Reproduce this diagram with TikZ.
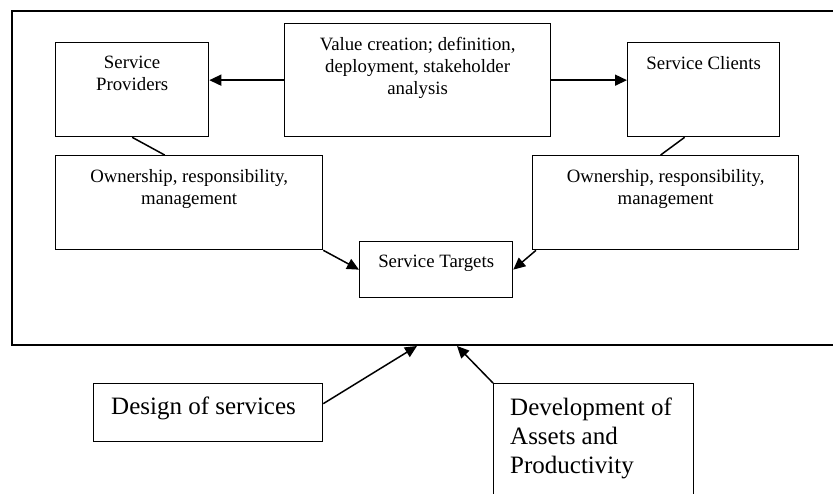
\documentclass[tikz,border=0pt]{standalone}
\usepackage{fontspec}
\setmainfont{Liberation Serif}
\usepackage{tikz}
\usetikzlibrary{arrows.meta}
\usetikzlibrary{positioning}
\newcommand{\smallfs}{\fontsize{18.8}{22}\selectfont}
\newcommand{\bigfs}{\fontsize{25}{29}\selectfont}
\tikzstyle{blk}=[shape=rectangle,draw,line width=1.3pt,inner sep=0pt,anchor=north west]
\tikzstyle{txt}=[anchor=north,inner sep=0pt,yshift=-14,align=center,font=\smallfs]
\tikzstyle{bigtxt}=[anchor=north west,inner sep=0pt,align=left,font=\bigfs]
\tikzstyle{flow}=[draw,line width=1.5pt,-{Triangle[length=12pt,width=11pt]}]
\tikzstyle{tie}=[draw,line width=1.5pt]

\begin{document}
\begin{tikzpicture}[x=1pt,y=-1pt]
\clip (0,0) rectangle (833,493);
% outer frame, runs off on the right
\draw[line width=2pt] (850,11) -- (12,11) -- (12,345) -- (850,345);

\node[blk, minimum width=153, minimum height=94,
  label={[txt]north:Service\\Providers}] (prov) at (55,42) {};
\node[blk, minimum width=266, minimum height=113,
  label={[txt]north:Value creation; definition,\\deployment, stakeholder\\analysis}] (val) at (284,23) {};
\node[blk, minimum width=152, minimum height=94,
  label={[txt]north:Service Clients}] (cli) at (627,42) {};
\node[blk, minimum width=267, minimum height=94,
  label={[txt]north:Ownership, responsibility,\\management}] (ownl) at (55,155) {};
\node[blk, minimum width=266, minimum height=94,
  label={[txt]north:Ownership, responsibility,\\management}] (ownr) at (532,155) {};
\node[blk, minimum width=153, minimum height=56,
  label={[txt]north:Service Targets}] (tgt) at (359,241) {};

\node[blk, minimum width=229, minimum height=58,
  label={[bigtxt, xshift=18, yshift=-14]north west:Design of services}] (design) at (93,383) {};
\node[blk, minimum width=200, minimum height=130,
  label={[bigtxt, xshift=17, yshift=-15]north west:Development of\\Assets and\\Productivity}] (dev) at (493,383) {};

\coordinate (in1) at (417,346);
\coordinate (in2) at (457,346);

\draw[flow] (val.west) -- (val.west-|prov.east);
\draw[flow] (val.east) -- (val.east-|cli.west);
\draw[tie] (prov.south) -- ([xshift=-24.5]ownl.north);
\draw[tie] ([xshift=-19]cli.south) -- ([xshift=-5]ownr.north);
\draw[flow] (ownl.south east) -- (tgt.west);
\draw[flow] ([xshift=4]ownr.south west) -- (tgt.east);
%\draw[flow] (design.east) -- (in1);
\draw[flow] ([yshift=9]design.east) -- (in1);
\draw[flow] (dev.north west) -- (in2);
\end{tikzpicture}
\end{document}
